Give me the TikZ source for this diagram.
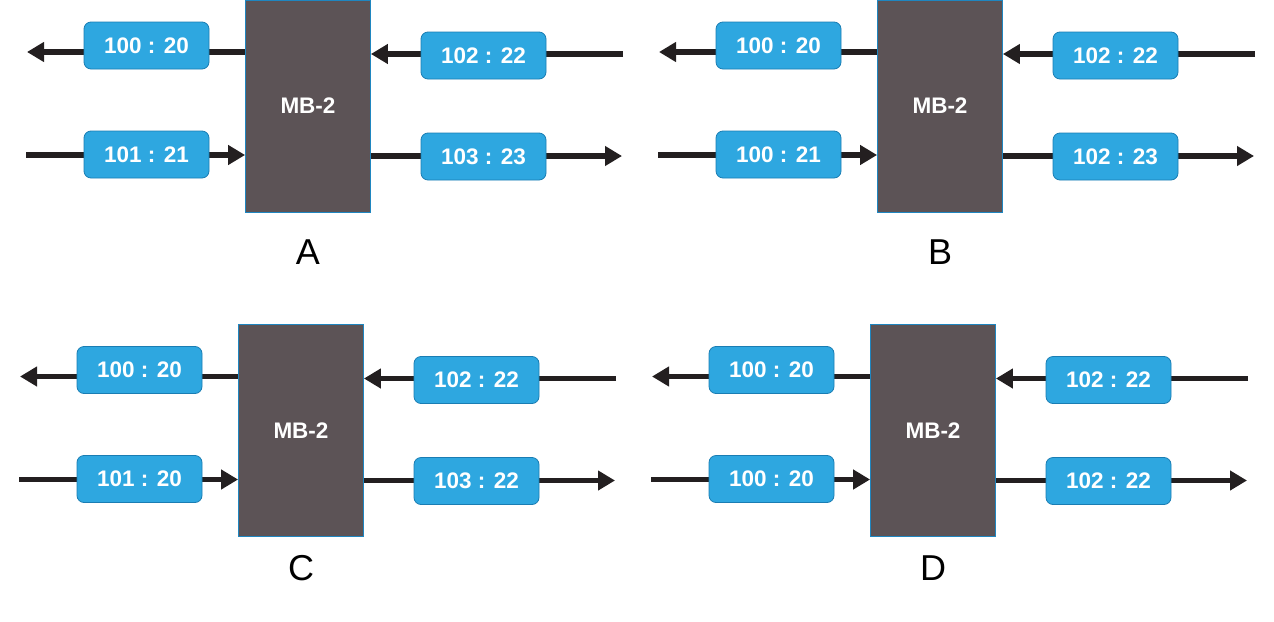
\documentclass[tikz,border=0pt]{standalone}
\usepackage{fontspec}
\setmainfont{Liberation Sans}
\usetikzlibrary{arrows.meta}
\definecolor{mbfill}{HTML}{5C5356}
\definecolor{mbedge}{HTML}{1F86C0}
\definecolor{boxblue}{HTML}{2EA7E0}
\definecolor{boxedge}{HTML}{1A7DB3}
\definecolor{linecol}{HTML}{231F20}
\tikzset{
  mbbox/.style={draw=mbedge, line width=0.8pt, fill=mbfill, minimum width=125pt, minimum height=212pt, inner sep=0pt, text=white, font=\fontsize{22.5}{22.5}\selectfont\bfseries},
  tagbox/.style={draw=boxedge, line width=0.8pt, fill=boxblue, rounded corners=7pt, minimum width=125pt, minimum height=47pt, inner sep=0pt, text=white, font=\fontsize{22.5}{22.5}\selectfont\bfseries},
  ln/.style={draw=linecol, line width=5.5pt},
  arr/.style={ln, -{Triangle[length=17pt,width=19pt]}},
  panlabel/.style={inner sep=0pt, text=black, font=\fontsize{36}{36}\selectfont}
}
\newcommand\mbpanel[9]{%
\begin{scope}[shift={(#2,#3)}]
  \node[mbbox] (#1mb) at (308,106) {MB-2};
  \coordinate (#1e1) at (27,52);
  \coordinate (#1e2) at (623,54);
  \coordinate (#1e3) at (26,155);
  \coordinate (#1e4) at (622,156);
  \draw[arr] (#1mb.west |- #1e1) -- (#1e1);
  \draw[arr] (#1e2) -- (#1mb.east |- #1e2);
  \draw[arr] (#1e3) -- (#1mb.west |- #1e3);
  \draw[arr] (#1mb.east |- #1e4) -- (#1e4);
  \node[tagbox] (#1t1) at (146.5,45.5) {#6};
  \node[tagbox] (#1t2) at (483.5,55.5) {#7};
  \node[tagbox] (#1t3) at (146.5,154.5) {#8};
  \node[tagbox] (#1t4) at (483.5,156.5) {#9};
  \node[panlabel] (#1lab) at (308,#5) {#4};
\end{scope}}
\begin{document}
\begin{tikzpicture}[x=1pt,y=-1pt]
\useasboundingbox (0,0) rectangle (1274,621);
\mbpanel{A}{0}{0}{A}{252}{100 : 20}{102 : 22}{101 : 21}{103 : 23}
\mbpanel{B}{632}{0}{B}{252}{100 : 20}{102 : 22}{100 : 21}{102 : 23}
\mbpanel{C}{-7}{324.5}{C}{244}{100 : 20}{102 : 22}{101 : 20}{103 : 22}
\mbpanel{D}{625}{324.5}{D}{244}{100 : 20}{102 : 22}{100 : 20}{102 : 22}
\end{tikzpicture}
\end{document}
